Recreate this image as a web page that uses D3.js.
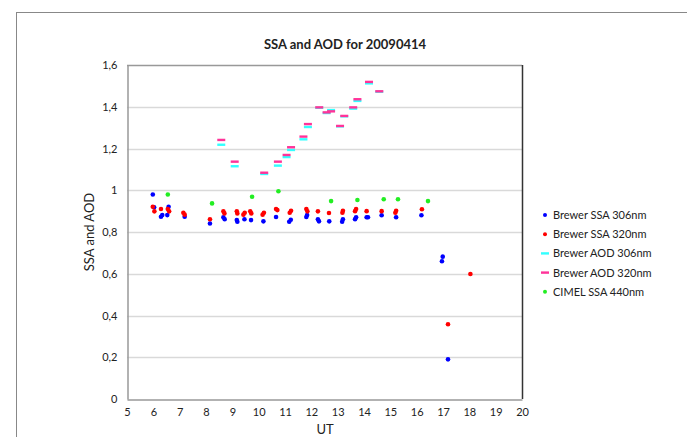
<!DOCTYPE html>
<html>
<head>
<meta charset="utf-8">
<script src="https://cdn.jsdelivr.net/npm/d3@7"></script>
<style>
  body { margin: 0; background: #fff; }
  text { font-family: Lato, "Open Sans", sans-serif; fill: #222; }
</style>
</head>
<body>
<div id="chart"></div>
<script>
// Brewer SSA 306nm  [UT, value]
const ssa306 = [
  [6.03, 0.918], [5.98, 0.98], [6.29, 0.873], [6.34, 0.881], [6.53, 0.881], [6.58, 0.921],
  [7.19, 0.873], [8.15, 0.841], [8.66, 0.871], [8.71, 0.861], [9.17, 0.857], [9.19, 0.849],
  [9.46, 0.861], [9.71, 0.857], [10.18, 0.851], [10.66, 0.872], [11.16, 0.849], [11.22, 0.859],
  [11.81, 0.872], [11.84, 0.881], [12.25, 0.861], [12.29, 0.851], [12.68, 0.851], [13.17, 0.849],
  [13.2, 0.861], [13.66, 0.861], [13.7, 0.871], [14.1, 0.871], [14.15, 0.871], [14.67, 0.88],
  [15.22, 0.871], [16.18, 0.88], [16.96, 0.66], [16.99, 0.682], [17.19, 0.19]
];
// Brewer SSA 320nm
const ssa320 = [
  [5.98, 0.921], [6.04, 0.899], [6.29, 0.91], [6.55, 0.91], [6.6, 0.899], [7.14, 0.892],
  [7.19, 0.883], [8.15, 0.861], [8.66, 0.899], [8.7, 0.889], [9.17, 0.899], [9.19, 0.889],
  [9.42, 0.883], [9.47, 0.892], [9.68, 0.899], [9.72, 0.889], [10.15, 0.883], [10.2, 0.892],
  [10.66, 0.91], [10.71, 0.905], [11.18, 0.892], [11.23, 0.902], [11.81, 0.91], [11.85, 0.899],
  [12.25, 0.899], [12.67, 0.891], [13.18, 0.892], [13.2, 0.902], [13.66, 0.9], [13.7, 0.91],
  [14.1, 0.9], [14.67, 0.9], [15.19, 0.892], [15.22, 0.902], [16.2, 0.909], [17.19, 0.358],
  [18.04, 0.599]
];
// Brewer AOD 306nm
const aod306 = [
  [8.58, 1.218], [9.09, 1.115], [10.21, 1.078], [10.73, 1.118], [11.06, 1.159], [11.23, 1.193],
  [11.7, 1.244], [11.87, 1.303], [12.3, 1.395], [12.58, 1.37], [12.75, 1.384], [13.09, 1.306],
  [13.25, 1.354], [13.59, 1.391], [13.75, 1.428], [14.19, 1.512], [14.58, 1.472]
];
// Brewer AOD 320nm
const aod320 = [
  [8.58, 1.241], [9.09, 1.137], [10.21, 1.084], [10.73, 1.137], [11.06, 1.169], [11.23, 1.206],
  [11.7, 1.257], [11.87, 1.317], [12.3, 1.397], [12.58, 1.373], [12.75, 1.378], [13.09, 1.308],
  [13.25, 1.356], [13.59, 1.397], [13.75, 1.436], [14.19, 1.519], [14.58, 1.474]
];
// CIMEL SSA 440nm
const cimel440 = [
  [6.55, 0.98], [8.23, 0.937], [9.75, 0.969], [10.75, 0.995], [12.75, 0.948],
  [13.75, 0.953], [14.75, 0.957], [15.29, 0.957], [16.43, 0.948]
];

const xTicks = d3.range(5, 21, 1);
const yTicks = [0, 0.2, 0.4, 0.6, 0.8, 1, 1.2, 1.4, 1.6];

const series = [
  { name: 'Brewer SSA 306nm', data: ssa306, color: '#0000ff', shape: 'dot' },
  { name: 'Brewer SSA 320nm', data: ssa320, color: '#ff0000', shape: 'dot' },
  { name: 'Brewer AOD 306nm', data: aod306, color: '#33ffff', shape: 'dash' },
  { name: 'Brewer AOD 320nm', data: aod320, color: '#ff3399', shape: 'dash' },
  { name: 'CIMEL SSA 440nm', data: cimel440, color: '#22ee22', shape: 'dot' }
];

const W = 687, H = 437;
const plot = { left: 127, right: 522, top: 65, bottom: 399 };

const svg = d3.select('#chart').append('svg')
  .attr('width', W).attr('height', H);

// outer chart frame
svg.append('rect')
  .attr('x', 16.5).attr('y', 12.5)
  .attr('width', 700).attr('height', 460)
  .attr('fill', 'none').attr('stroke', '#888').attr('stroke-width', 1);

const x = d3.scaleLinear().domain([5, 20]).range([plot.left, plot.right]);
const y = d3.scaleLinear().domain([0, 1.6]).range([plot.bottom, plot.top]);

// gridlines
svg.append('g').selectAll('line')
  .data(yTicks.filter(t => t > 0 && t < 1.6))
  .enter().append('line')
  .attr('x1', plot.left).attr('x2', plot.right)
  .attr('y1', d => Math.round(y(d)) + 0.5).attr('y2', d => Math.round(y(d)) + 0.5)
  .attr('stroke', '#d9d9d9').attr('stroke-width', 1.5);

// plot borders
svg.append('line').attr('x1', plot.left).attr('x2', plot.right)
  .attr('y1', plot.top + 0.5).attr('y2', plot.top + 0.5)
  .attr('stroke', '#999').attr('stroke-width', 1.5);
svg.append('line').attr('x1', plot.right + 0.5).attr('x2', plot.right + 0.5)
  .attr('y1', plot.top).attr('y2', plot.bottom)
  .attr('stroke', '#333').attr('stroke-width', 1.5);

// axes
const fmt = d => String(+d.toFixed(1)).replace('.', ',');
const yAxis = svg.append('g')
  .attr('transform', `translate(${plot.left + 0.5},0)`)
  .call(d3.axisLeft(y).tickValues(yTicks).tickFormat(fmt).tickSize(0).tickPadding(10));
const xAxis = svg.append('g')
  .attr('transform', `translate(0,${plot.bottom + 0.5})`)
  .call(d3.axisBottom(x).tickValues(xTicks).tickFormat(d3.format('d')).tickSize(0).tickPadding(9));
[xAxis, yAxis].forEach(a => {
  a.select('.domain').attr('stroke', '#999').attr('stroke-width', 1.5);
  a.selectAll('text').style('font-size', '11px').attr('fill', '#333')
    .style('font-family', 'Lato, "Open Sans", sans-serif');
});

// marks
series.forEach(s => {
  const g = svg.append('g');
  if (s.shape === 'dot') {
    g.selectAll('circle').data(s.data).enter().append('circle')
      .attr('cx', d => x(d[0])).attr('cy', d => y(d[1]))
      .attr('r', 2.3).attr('fill', s.color);
  } else {
    g.selectAll('rect').data(s.data).enter().append('rect')
      .attr('x', d => x(d[0]) - 4).attr('y', d => y(d[1]) - 1.2)
      .attr('width', 8).attr('height', 2.4).attr('fill', s.color);
  }
});

// title and axis titles
svg.append('text').attr('x', 345).attr('y', 49)
  .attr('text-anchor', 'middle').style('font-size', '13px').style('font-weight', 'bold')
  .text('SSA and AOD for 20090414');
svg.append('text').attr('x', 325).attr('y', 434)
  .attr('text-anchor', 'middle').style('font-size', '13px')
  .text('UT');
svg.append('text')
  .attr('transform', 'translate(94,232) rotate(-90)')
  .attr('text-anchor', 'middle').style('font-size', '13px')
  .text('SSA and AOD');

// legend
const legend = svg.append('g');
series.forEach((s, i) => {
  const ly = 215 + i * 19.2;
  if (s.shape === 'dot') {
    legend.append('circle').attr('cx', 545).attr('cy', ly).attr('r', 2).attr('fill', s.color);
  } else {
    legend.append('rect').attr('x', 541).attr('y', ly - 1.2)
      .attr('width', 8).attr('height', 2.4).attr('fill', s.color);
  }
  legend.append('text').attr('x', 553).attr('y', ly + 4)
    .style('font-size', '11px').text(s.name);
});
</script>
</body>
</html>
